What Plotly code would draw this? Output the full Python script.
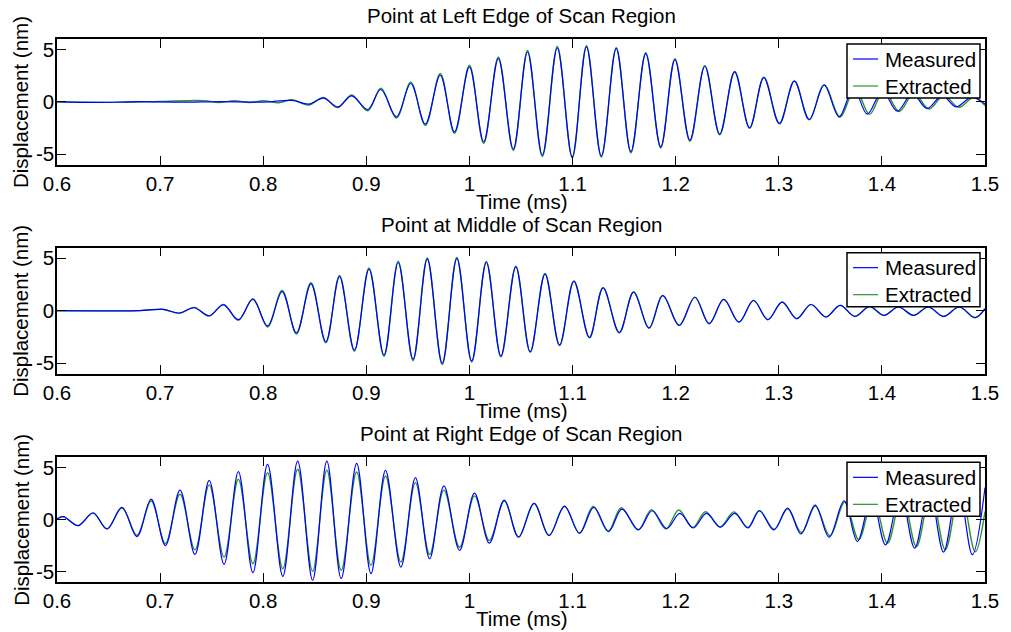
import plotly.graph_objects as go

# ---- Point at left edge of scan region (peak / trough readings) ----
left_measured_t = [0.600, 0.640, 0.680, 0.720, 0.760, 0.800, 0.828, 0.844, 0.8585, 0.8723,
                   0.8858, 0.9013, 0.9141, 0.9292, 0.9431, 0.9572, 0.9717, 0.9855, 1.0000, 1.0138,
                   1.0280, 1.0425, 1.0563, 1.0707, 1.0852, 1.0997, 1.1135, 1.1279, 1.1424, 1.1566,
                   1.1710, 1.1855, 1.1993, 1.2138, 1.2283, 1.2427, 1.2572, 1.2717, 1.2855, 1.3006,
                   1.3151, 1.3295, 1.3440, 1.3585, 1.3725, 1.3858, 1.4005, 1.4148, 1.4295, 1.4437,
                   1.4585, 1.4720, 1.4870, 1.5000]
left_measured_nm = [0.00, -0.05, 0.02, -0.03, 0.03, -0.02, 0.14, -0.22, 0.36, -0.48,
                    0.57, -0.73, 1.18, -1.43, 1.75, -2.12, 2.54, -2.86, 3.33, -3.81,
                    4.13, -4.50, 4.76, -5.08, 5.14, -5.24, 5.24, -5.17, 5.08, -4.76,
                    4.60, -4.30, 4.04, -3.65, 3.40, -3.08, 2.86, -2.47, 2.32, -2.06,
                    1.97, -1.68, 1.59, -1.43, 1.30, -1.17, 1.05, -0.89, 0.80, -0.63,
                    0.60, -0.48, 0.45, -0.20]
left_extracted_t = [0.600, 0.660, 0.700, 0.742, 0.757, 0.772, 0.787, 0.800, 0.815, 0.828,
                    0.844, 0.8585, 0.8723, 0.8858, 0.9013, 0.9141, 0.9292, 0.9431, 0.9572, 0.9717,
                    0.9855, 1.0000, 1.0138, 1.0280, 1.0425, 1.0563, 1.0707, 1.0852, 1.0997, 1.1135,
                    1.1279, 1.1424, 1.1566, 1.1710, 1.1855, 1.1993, 1.2138, 1.2283, 1.2427, 1.2572,
                    1.2717, 1.2855, 1.3006, 1.3151, 1.3295, 1.3440, 1.3595, 1.3740, 1.3880, 1.4020,
                    1.4168, 1.4310, 1.4457, 1.4600, 1.4747, 1.4890, 1.5000]
left_extracted_nm = [0.02, -0.05, 0.04, 0.12, -0.06, 0.10, -0.06, 0.10, -0.08, 0.20,
                     -0.30, 0.42, -0.55, 0.66, -0.85, 1.30, -1.55, 1.88, -2.25, 2.70,
                     -3.00, 3.50, -3.98, 4.28, -4.65, 4.90, -5.22, 5.28, -5.35, 5.36,
                     -5.27, 5.18, -4.86, 4.70, -4.40, 4.12, -3.78, 3.46, -3.14, 2.90,
                     -2.52, 2.36, -2.10, 2.00, -1.72, 1.62, -1.45, 1.32, -1.20, 1.08,
                     -0.92, 0.82, -0.68, 0.60, -0.52, 0.42, -0.35]

# ---- Point at middle of scan region ----
mid_measured_t = [0.600, 0.640, 0.680, 0.7026, 0.7186, 0.7331, 0.7476, 0.7614, 0.7759, 0.7900,
                  0.8042, 0.8183, 0.8322, 0.8463, 0.8607, 0.8740, 0.8884, 0.9026, 0.9171, 0.9309,
                  0.9453, 0.9591, 0.9736, 0.9878, 1.0022, 1.0164, 1.0305, 1.0450, 1.0589, 1.0733,
                  1.0874, 1.1013, 1.1164, 1.1296, 1.1453, 1.1592, 1.1742, 1.1875, 1.2035, 1.2186,
                  1.2325, 1.2466, 1.2614, 1.2755, 1.2894, 1.3032, 1.3174, 1.3312, 1.3457, 1.3595,
                  1.3739, 1.3880, 1.4019, 1.4160, 1.4308, 1.4450, 1.4598, 1.4750, 1.4903, 1.5000]
mid_measured_nm = [0.00, -0.02, 0.00, 0.12, -0.22, 0.28, -0.48, 0.56, -0.85, 1.07,
                   -1.45, 1.82, -2.10, 2.55, -2.96, 3.24, -3.75, 3.96, -4.22, 4.59,
                   -4.62, 4.90, -5.00, 4.96, -4.78, 4.59, -4.31, 4.18, -3.90, 3.49,
                   -3.27, 2.80, -2.55, 2.17, -2.08, 1.76, -1.64, 1.44, -1.39, 1.28,
                   -1.23, 1.07, -1.08, 0.97, -0.85, 0.81, -0.75, 0.59, -0.60, 0.50,
                   -0.54, 0.40, -0.44, 0.35, -0.44, 0.35, -0.54, 0.35, -0.66, 0.19]
mid_extracted_t = mid_measured_t
mid_extracted_nm = [0.00, -0.02, 0.01, 0.14, -0.25, 0.31, -0.52, 0.60, -0.92, 1.15,
                    -1.55, 1.92, -2.22, 2.66, -3.06, 3.36, -3.86, 4.08, -4.34, 4.72,
                    -4.74, 5.02, -5.14, 5.08, -4.90, 4.68, -4.40, 4.24, -3.96, 3.54,
                    -3.31, 2.84, -2.58, 2.20, -2.10, 1.78, -1.66, 1.46, -1.40, 1.29,
                    -1.24, 1.08, -1.09, 0.98, -0.86, 0.82, -0.76, 0.60, -0.61, 0.51,
                    -0.55, 0.40, -0.45, 0.36, -0.45, 0.36, -0.55, 0.36, -0.67, 0.17]

# ---- Point at right edge of scan region ----
right_measured_t = [0.600, 0.6061, 0.6205, 0.6350, 0.6485, 0.6630, 0.6775, 0.6913, 0.7051, 0.7193,
                    0.7338, 0.7476, 0.7620, 0.7759, 0.7900, 0.8042, 0.8190, 0.8334, 0.8479, 0.8617,
                    0.8756, 0.8906, 0.9045, 0.9186, 0.9335, 0.9476, 0.9614, 0.9752, 0.9904, 1.0049,
                    1.0193, 1.0338, 1.0476, 1.0627, 1.0772, 1.0922, 1.1067, 1.1206, 1.1350, 1.1479,
                    1.1640, 1.1772, 1.1913, 1.2041, 1.2170, 1.2299, 1.2434, 1.2572, 1.2701, 1.2813,
                    1.2952, 1.3087, 1.3215, 1.3353, 1.3488, 1.3633, 1.3762, 1.3900, 1.4035, 1.4180,
                    1.4318, 1.4460, 1.4598, 1.4740, 1.4877, 1.5000]
right_measured_nm = [0.05, 0.29, -0.57, 0.64, -0.90, 1.18, -1.63, 1.98, -2.49, 2.84,
                     -3.35, 3.79, -4.30, 4.62, -5.10, 5.32, -5.45, 5.64, -5.83, 5.64,
                     -5.67, 5.42, -5.19, 4.75, -4.56, 4.05, -3.76, 3.25, -2.96, 2.55,
                     -2.26, 1.88, -1.69, 1.56, -1.53, 1.28, -1.31, 1.18, -1.12, 1.02,
                     -0.96, 0.86, -0.85, 0.60, -0.80, 0.60, -0.73, 0.60, -0.80, 0.86,
                     -0.99, 1.12, -1.37, 1.40, -1.69, 1.82, -2.10, 2.20, -2.42, 2.60,
                     -2.74, 2.90, -3.12, 3.20, -3.37, 3.10]
right_extracted_t = [0.600, 0.6061, 0.6205, 0.6350, 0.6485, 0.6630, 0.6775, 0.6913, 0.7051, 0.7193,
                     0.7338, 0.7476, 0.7620, 0.7759, 0.7900, 0.8042, 0.8190, 0.8334, 0.8479, 0.8617,
                     0.8756, 0.8906, 0.9045, 0.9186, 0.9335, 0.9476, 0.9614, 0.9752, 0.9904, 1.0049,
                     1.0193, 1.0338, 1.0476, 1.0627, 1.0772, 1.0922, 1.1067, 1.1200, 1.1345, 1.1472,
                     1.1635, 1.1765, 1.1905, 1.2030, 1.2165, 1.2290, 1.2430, 1.2565, 1.2700, 1.2810,
                     1.2955, 1.3085, 1.3220, 1.3355, 1.3495, 1.3640, 1.3775, 1.3915, 1.4055, 1.4195,
                     1.4335, 1.4475, 1.4615, 1.4760, 1.4905, 1.5000]
right_extracted_nm = [0.05, 0.29, -0.57, 0.64, -0.88, 1.15, -1.50, 1.80, -2.30, 2.45,
                      -2.90, 3.35, -3.60, 3.89, -4.24, 4.52, -4.72, 4.85, -4.97, 4.75,
                      -4.88, 4.59, -4.40, 4.20, -4.08, 3.57, -3.35, 2.84, -2.65, 2.29,
                      -2.00, 1.80, -1.65, 1.56, -1.50, 1.30, -1.30, 1.28, -1.15, 1.15,
                      -1.00, 0.95, -0.90, 0.93, -0.75, 0.76, -0.70, 0.75, -0.75, 0.86,
                      -0.92, 1.05, -1.25, 1.30, -1.55, 1.70, -1.92, 2.05, -2.27, 2.45,
                      -2.60, 2.75, -2.90, 3.00, -3.10, 0.80]

panel_titles = ["Point at Left Edge of Scan Region",
                "Point at Middle of Scan Region",
                "Point at Right Edge of Scan Region"]
series_names = ["Measured", "Extracted"]
x_tick_vals = [0.6, 0.7, 0.8, 0.9, 1.0, 1.1, 1.2, 1.3, 1.4, 1.5]
x_tick_text = ["0.6", "0.7", "0.8", "0.9", "1", "1.1", "1.2", "1.3", "1.4", "1.5"]
y_tick_vals = [-5, 0, 5]
y_tick_text = ["-5", "0", "5"]
x_label = "Time (ms)"
y_label = "Displacement (nm)"

FONT = "Liberation Sans, Arial, Helvetica, sans-serif"
FSIZE = 20.5
MEAS_COLOR = "#0000ff"
EXTR_COLOR = "#2a962a"
series_colors = [MEAS_COLOR, EXTR_COLOR]

panels = [
    (left_measured_t, left_measured_nm, left_extracted_t, left_extracted_nm),
    (mid_measured_t, mid_measured_nm, mid_extracted_t, mid_extracted_nm),
    (right_measured_t, right_measured_nm, right_extracted_t, right_extracted_nm),
]
y_domains = [[0.7685, 1.0], [0.3836, 0.6157], [0.0, 0.2296]]

fig = go.Figure()
axis_style = dict(showline=True, linecolor="black", linewidth=1.5, mirror="ticks",
                  ticks="inside", ticklen=9, tickwidth=1, tickcolor="black",
                  showgrid=False, zeroline=False,
                  tickfont=dict(size=FSIZE, color="black", family=FONT))
annotations = []
shapes = []
txt_font = dict(size=FSIZE, family=FONT, color="black")

for i, (mt, mv, et, ev) in enumerate(panels):
    sfx = "" if i == 0 else str(i + 1)
    xd, yd = "x" + sfx + " domain", "y" + sfx + " domain"
    # extracted underneath, measured drawn on top
    fig.add_trace(go.Scatter(x=et, y=ev, name=series_names[1], mode="lines",
                             line=dict(color=EXTR_COLOR, width=1.4, shape="spline"),
                             xaxis="x" + sfx, yaxis="y" + sfx, showlegend=False))
    fig.add_trace(go.Scatter(x=mt, y=mv, name=series_names[0], mode="lines",
                             line=dict(color=MEAS_COLOR, width=1.2, shape="spline"),
                             xaxis="x" + sfx, yaxis="y" + sfx, showlegend=False))

    fig.layout["xaxis" + sfx] = dict(domain=[0, 1], range=[0.6, 1.5], anchor="y" + sfx,
                                     tickvals=x_tick_vals, ticktext=x_tick_text, **axis_style)
    fig.layout["yaxis" + sfx] = dict(domain=y_domains[i], range=[-6, 6], anchor="x" + sfx,
                                     tickvals=y_tick_vals, ticktext=y_tick_text,
                                     ticklabelstandoff=-3, **axis_style)

    # legend box in the top-right corner of each panel (pixel offsets from the corner)
    shapes.append(dict(type="rect", xref=xd, yref=yd, xsizemode="pixel", ysizemode="pixel",
                       xanchor=1, yanchor=1, x0=-138, x1=-5, y0=-5, y1=-59,
                       line=dict(color="black", width=1.5), fillcolor="white", layer="above"))
    for k, name in enumerate(series_names):
        row_y = -20 - 27 * k
        shapes.append(dict(type="line", xref=xd, yref=yd, xsizemode="pixel", ysizemode="pixel",
                           xanchor=1, yanchor=1, x0=-132, x1=-107, y0=row_y, y1=row_y,
                           line=dict(color=series_colors[k], width=1.2), layer="above"))
        annotations.append(dict(text=name, xref=xd, yref=yd, x=1, y=1, xanchor="left",
                                yanchor="middle", xshift=-102, yshift=row_y,
                                showarrow=False, font=txt_font))

    annotations.append(dict(text=panel_titles[i], xref=xd, yref=yd,
                            x=0.5, y=1, xanchor="center", yanchor="bottom", yshift=10,
                            showarrow=False, font=txt_font))
    annotations.append(dict(text=x_label, xref=xd, yref=yd,
                            x=0.5, y=0, xanchor="center", yanchor="top", yshift=-23,
                            showarrow=False, font=txt_font))
    annotations.append(dict(text=y_label, xref="paper", yref=yd,
                            x=-0.0386, y=0.5, xanchor="center", yanchor="middle", textangle=-90,
                            showarrow=False, font=txt_font))

fig.update_layout(width=1011, height=632, margin=dict(l=57, r=21, t=39, b=50),
                  paper_bgcolor="white", plot_bgcolor="white", showlegend=False,
                  annotations=annotations, shapes=shapes,
                  font=dict(family=FONT, size=FSIZE, color="black"))

fig.write_html("out.html")
